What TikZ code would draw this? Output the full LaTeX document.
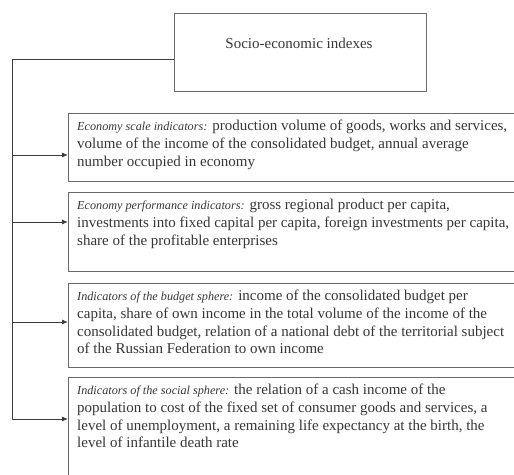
\documentclass[tikz,border=0pt]{standalone}
\usepackage{fontspec}
\setmainfont{Liberation Serif}
\usetikzlibrary{arrows.meta}
\definecolor{boxline}{HTML}{6A6A6A}
\definecolor{conline}{HTML}{3C3C3C}
\definecolor{txtcol}{HTML}{363636}
\newcommand{\lead}[1]{{\fontsize{12.2}{17.7}\selectfont\itshape #1}}
\tikzset{
  ibox/.style={draw=boxline, line width=1.2pt, fill=white, inner sep=0pt, anchor=north west},
  txt/.style={text=txtcol, inner sep=0pt, anchor=north west, align=left,
    font=\fontsize{15}{17.7}\selectfont},
  conn/.style={draw=conline, line width=0.9pt},
  arr/.style={conn, -{Latex[length=6pt,width=5pt]}}
}
\begin{document}
\begin{tikzpicture}[x=1pt,y=-1pt]
\useasboundingbox (0,0) rectangle (514,474);
\clip (0,0) rectangle (514,474);
\fill[white] (0,0) rectangle (514,474);
% top box
\node[ibox, minimum width=252pt, minimum height=78pt] (top) at (174,13) {};
\node[text=txtcol, font=\fontsize{15}{17.7}\selectfont, inner sep=0pt] (ttop) at (299,43) {Socio-economic indexes};
% indicator boxes
\node[ibox, minimum width=470pt, minimum height=68pt] (b1) at (68,113) {};
\node[ibox, minimum width=470pt, minimum height=79pt] (b2) at (68,192) {};
\node[ibox, minimum width=470pt, minimum height=84pt] (b3) at (68,283) {};
\node[ibox, minimum width=470pt, minimum height=120pt] (b4) at (68,377) {};
% texts
\node[txt] (t1) at (77,120) {\lead{Economy scale indicators:} production volume of goods, works and services,\\
volume of the income of the consolidated budget, annual average\\
number occupied in economy};
\node[txt] (t2) at (77,199) {\lead{Economy performance indicators:} gross regional product per capita,\\
investments into fixed capital per capita, foreign investments per capita,\\
share of the profitable enterprises};
\node[txt] (t3) at (77,290) {\lead{Indicators of the budget sphere:} income of the consolidated budget per\\
capita, share of own income in the total volume of the income of the\\
consolidated budget, relation of a national debt of the territorial subject\\
of the Russian Federation to own income};
\node[txt] (t4) at (77,384) {\lead{Indicators of the social sphere:} the relation of a cash income of the\\
population to cost of the fixed set of consumer goods and services, a\\
level of unemployment, a remaining life expectancy at the birth, the\\
level of infantile death rate};
% connectors
\coordinate (j) at (12,59.5);
\coordinate (a1) at (12,155);
\coordinate (a2) at (12,222);
\coordinate (a3) at (12,322);
\coordinate (a4) at (12,419);
\draw[conn] (top.west |- j) -- (j) -- (a4);
\draw[arr] (a1) -- (b1.west |- a1);
\draw[arr] (a2) -- (b2.west |- a2);
\draw[arr] (a3) -- (b3.west |- a3);
\draw[arr] (a4) -- (b4.west |- a4);
\end{tikzpicture}
\end{document}
